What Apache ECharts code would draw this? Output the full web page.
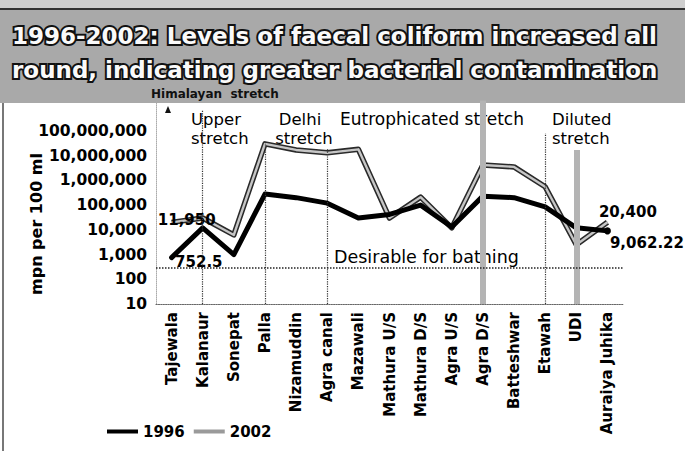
<!DOCTYPE html>
<html>
<head>
<meta charset="utf-8">
<script src="https://cdn.jsdelivr.net/npm/echarts@6/dist/echarts.min.js"></script>
<style>
  html, body { margin: 0; padding: 0; background: #fff; }
  #chart { width: 685px; height: 451px; }
</style>
</head>
<body>
<div id="chart"></div>
<script>
const sites = ['Tajewala', 'Kalanaur', 'Sonepat', 'Palla', 'Nizamuddin', 'Agra canal', 'Mazawali', 'Mathura U/S',
  'Mathura D/S', 'Agra U/S', 'Agra D/S', 'Batteshwar', 'Etawah', 'UDI', 'Auraiya Juhika']
const coliform1996 = [752.5, 11950, 1000, 280000, 200000, 120000, 30000, 42000, 100000, 13000, 230000, 200000, 85000, 12000, 9062.22]
const coliform2002 = [20000, 30000, 6200, 30000000, 17000000, 13000000, 18000000, 30000, 210000, 12000, 4200000, 3500000, 550000, 2500, 20400]
const yTicks = [10, 100, 1000, 10000, 100000, 1000000, 10000000, 100000000]
const bathingLimit = 300
const thinBoundaries = ['Kalanaur', 'Palla', 'Agra canal', 'Etawah']
const bandBoundaries = ['Agra D/S', 'UDI']

const font = 'DejaVu Sans'
const fmt = v => v.toLocaleString('en-US')

// value labels at the ends of the lines
const labels1996 = {
  0: { position: 'right', offset: [-2, 4] },
  1: { position: 'top', offset: [-16, 5] },
  14: { position: 'right', offset: [-6, 12] }
}
const labels2002 = {
  14: { position: 'right', offset: [-14, -10] }
}
const withLabels = (values, marks) => values.map((v, i) => {
  if (!marks[i]) return v
  return {
    value: v,
    label: Object.assign({ show: true, formatter: p => fmt(p.value), fontFamily: font, fontSize: 15, fontWeight: 'bold', color: '#000' }, marks[i])
  }
})

// how far up each stretch marker runs
const lineTop = { 'Kalanaur': 7e8, 'Palla': 4e7, 'Agra canal': 2e7, 'Etawah': 8e7, 'Agra D/S': 1.7e9, 'UDI': 1.7e7 }
const markers = []
thinBoundaries.forEach(s => {
  markers.push([{ coord: [s, 10], lineStyle: { type: 'dotted', color: '#333', width: 1.2 } }, { coord: [s, lineTop[s]] }])
})
bandBoundaries.forEach(s => {
  markers.push([{ coord: [s, 10], lineStyle: { type: 'solid', color: '#b4b4b4', width: 6 } }, { coord: [s, lineTop[s]] }])
})
markers.push({ yAxis: bathingLimit, lineStyle: { type: 'dotted', color: '#222', width: 1.5 } })

const note = (text, x, y, extra, rotation) => ({
  type: 'text', x: x, y: y, rotation: rotation || 0,
  style: Object.assign({ text: text, fontFamily: font, fontSize: 16.5, fill: '#000', verticalAlign: 'middle' }, extra || {})
})

const chart = echarts.init(document.getElementById('chart'), null, { renderer: 'svg' })
chart.setOption({
  animation: false,
  backgroundColor: '#fff',
  textStyle: { fontFamily: font },
  grid: { left: 156, right: 62, top: 100, bottom: 147, containLabel: false, outerBoundsMode: 'none' },
  legend: {
    left: 102,
    top: 419,
    icon: 'rect',
    itemWidth: 31,
    itemHeight: 4,
    itemGap: 9,
    textStyle: { fontFamily: font, fontSize: 15, fontWeight: 'bold', color: '#000' },
    data: [
      { name: '1996', itemStyle: { color: '#000' } },
      { name: '2002', itemStyle: { color: '#9a9a9a' } }
    ]
  },
  xAxis: {
    type: 'category',
    data: sites,
    boundaryGap: true,
    axisLine: { lineStyle: { type: 'dotted', color: '#666', width: 1.2 } },
    axisTick: { show: false },
    axisLabel: { interval: 0, rotate: 90, margin: 8, fontFamily: font, fontSize: 15, fontWeight: 'bold', color: '#000' }
  },
  yAxis: {
    type: 'log',
    logBase: 10,
    min: 10,
    max: Math.pow(10, 9.25),
    axisLine: { show: true, lineStyle: { type: 'dotted', color: '#aaa', width: 1 } },
    axisTick: { show: false },
    splitLine: { show: false },
    axisLabel: {
      margin: 9,
      fontFamily: font,
      fontSize: 15.5,
      fontWeight: 'bold',
      color: '#000',
      formatter: v => {
        const t = yTicks.find(t => Math.abs(v - t) / t < 1e-6)
        return t ? fmt(t) : ''
      }
    }
  },
  series: [
    {
      name: '2002',
      type: 'line',
      z: 3,
      data: withLabels(coliform2002, labels2002),
      symbol: 'circle',
      symbolSize: 1,
      itemStyle: { color: '#c6c6c6' },
      lineStyle: { color: '#c6c6c6', width: 2.4, join: 'round' }
    },
    {
      name: '2002',
      type: 'line',
      z: 2,
      data: coliform2002,
      symbol: 'none',
      itemStyle: { color: '#2a2a2a' },
      lineStyle: { color: '#2a2a2a', width: 5.5, join: 'round' },
      markLine: { silent: true, symbol: ['none', 'none'], label: { show: false }, data: markers }
    },
    {
      name: '1996',
      type: 'line',
      z: 4,
      data: withLabels(coliform1996, labels1996),
      symbol: 'circle',
      symbolSize: (v, p) => p.dataIndex === sites.length - 1 ? 7 : 1,
      itemStyle: { color: '#000' },
      lineStyle: { color: '#000', width: 5, join: 'round', cap: 'round' }
    }
  ],
  graphic: [
    { type: 'rect', z: -10, shape: { x: 0, y: 0, width: 685, height: 9 }, style: { fill: '#cfcfcf' } },
    { type: 'rect', z: -10, shape: { x: 0, y: 8, width: 685, height: 2 }, style: { fill: '#333' } },
    { type: 'rect', z: -10, shape: { x: 0, y: 10, width: 685, height: 93 }, style: { fill: '#a9a9a9' } },
    { type: 'rect', z: -10, shape: { x: 2, y: 103, width: 2, height: 348 }, style: { fill: '#777' } },
    note('1996-2002: Levels of faecal coliform increased all', 12, 36,
      { fontSize: 23, fontWeight: 'bold', fill: '#fafafa', stroke: '#111', lineWidth: 4 }),
    note('round, indicating greater bacterial contamination', 12, 70,
      { fontSize: 23, fontWeight: 'bold', fill: '#fafafa', stroke: '#111', lineWidth: 4 }),
    note('Himalayan  stretch', 151, 94, { fontSize: 12, fontWeight: 'bold', fill: '#111' }),
    { type: 'polygon', shape: { points: [[168, 106], [165, 113], [171, 113]] }, style: { fill: '#111' } },
    note('Upper', 191, 119),
    note('stretch', 191, 138),
    note('Delhi', 300, 119, { align: 'center' }),
    note('stretch', 304, 138, { align: 'center' }),
    note('Eutrophicated stretch', 340, 119, { fontSize: 17 }),
    note('Diluted', 552, 119),
    note('stretch', 552, 138),
    note('Desirable for bathing', 334, 257, { fontSize: 17.5 }),
    // the axis title reads upwards
    note('mpn per 100 ml', 36, 224, { fontSize: 16, fontWeight: 'bold', align: 'center' }, Math.PI / 2)
  ]
})
</script>
</body>
</html>
